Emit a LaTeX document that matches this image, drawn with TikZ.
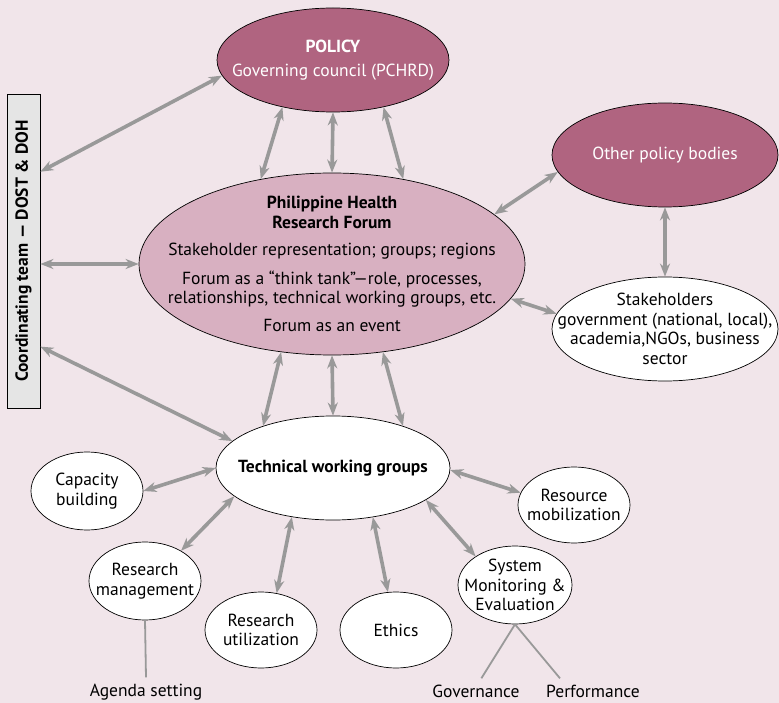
\documentclass[tikz,border=0pt]{standalone}
\usepackage{fontspec}
\setmainfont{PT Sans}
\usepackage{graphicx}
\usetikzlibrary{arrows.meta,shapes.geometric}
\definecolor{bgpink}{RGB}{241,229,234}
\definecolor{plum}{RGB}{176,100,128}
\definecolor{rosefill}{RGB}{216,176,193}
\definecolor{boxgray}{RGB}{229,229,229}
\definecolor{linkgray}{RGB}{153,153,153}

\begin{document}
\begin{tikzpicture}[x=1pt, y=-1pt, >={Stealth[length=13pt,width=10pt,inset=4pt]}, line cap=round,
  every node/.style={font=\fontsize{17.5}{19.5}\selectfont, align=center},
  oval/.style={ellipse, draw, line width=0.7pt, inner sep=-50pt},
  dark/.style={oval, fill=plum, text=white},
  pale/.style={oval, fill=rosefill},
  plain/.style={oval, fill=white},
  link/.style={<->, draw=linkgray, line width=3.6pt, line cap=butt},
  stem/.style={draw=linkgray, line width=1.8pt, line cap=butt},
  tag/.style={inner xsep=1pt, inner ysep=6pt, text height=13pt, text depth=4pt}]
% fond et cadre
\fill[bgpink] (0,0) rectangle (779,703);
\useasboundingbox (0,0) rectangle (779,703);
% niveau politique
\node[dark, minimum width=232, minimum height=104] (policy) at (333,60)
  {\textbf{POLICY}\\[5pt]Governing council (PCHRD)};
\node[dark, minimum width=226, minimum height=104] (other) at (665,155) {Other policy bodies};
% forum
\node[pale, minimum width=386, minimum height=182] (forum) at (332,264)
  {\textbf{Philippine Health}\\\textbf{Research Forum}\\[8pt]
   Stakeholder representation; groups; regions\\[9pt]
   Forum as a “think tank”—role, processes,\\
   relationships, technical working groups, etc.\\[8pt]
   Forum as an event};
\node[plain, minimum width=226, minimum height=104] (stake) at (665,329)
  {Stakeholders\\government (national, local),\\academia,NGOs, business\\sector};
% equipe de coordination
\node[draw, fill=boxgray, line width=0.7pt, inner sep=0pt, minimum width=33, minimum height=314] (coord) at (23.5,251)
  {\rotatebox{90}{\textbf{Coordinating team — DOST \& DOH}}};
% groupes techniques
\node[plain, minimum width=234, minimum height=104] (twg) at (333,468) {\textbf{Technical working groups}};
\node[plain, minimum width=112, minimum height=78] (capacity) at (87,491) {Capacity\\building};
\node[plain, minimum width=112, minimum height=78] (resmgmt) at (145,581) {Research\\management};
\node[plain, minimum width=112, minimum height=76] (resutil) at (261,630) {Research\\utilization};
\node[plain, minimum width=112, minimum height=76] (ethics) at (396,630) {Ethics};
\node[plain, minimum width=112, minimum height=76] (resmob) at (574,505) {Resource\\mobilization};
\node[plain, minimum width=114, minimum height=78] (sme) at (515,585) {System\\Monitoring \&\\Evaluation};
\node[tag] (agenda) at (146,692) {Agenda setting};
\node[tag] (gov) at (476,693) {Governance};
\node[tag] (perf) at (593,693) {Performance};
% liaisons
\draw[link] (coord.78.8) -- (policy.188);
\draw[link] (forum.west -| coord.east) -- (forum.west);
\draw[link] (coord.-80.2) -- (twg.165);
\draw[link] (policy.223) -- (forum.130);
\draw[link] (policy.south) -- (forum.north);
\draw[link] (policy.317) -- (forum.50);
\draw[link] (forum.17) -- (other.189.5);
\draw[link] (forum.-11) -- (stake.172);
\draw[link] (other.south) -- (stake.north);
\draw[link] (forum.240) -- (twg.149);
\draw[link] (forum.south) -- (twg.north);
\draw[link] (forum.300) -- (twg.31);
\draw[link] (twg.west) -- (capacity.east);
\draw[link] (twg.196) -- (resmgmt.40);
\draw[link] (twg.230) -- (resutil.67);
\draw[link] (twg.309) -- (ethics.102);
\draw[link] (twg.359) -- (resmob.167);
\draw[link] (twg.341) -- (sme.144);
\draw[stem] (resmgmt.south) -- (agenda.north);
\draw[stem] (sme.south) -- (gov.70);
\draw[stem] (sme.south) -- (perf.156);
\end{tikzpicture}
\end{document}
